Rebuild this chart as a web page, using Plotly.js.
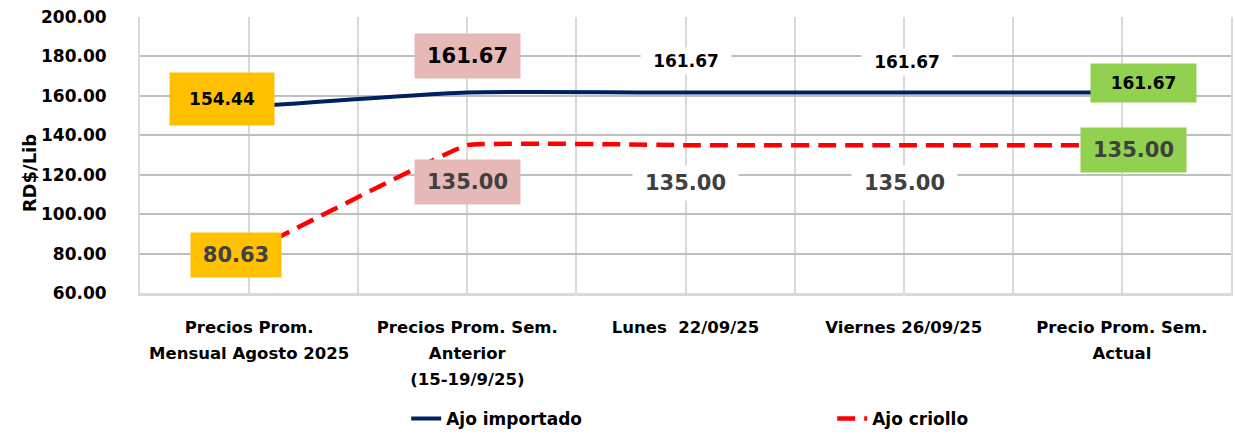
<!DOCTYPE html>
<html>
<head>
<meta charset="utf-8">
<script src="https://cdn.plot.ly/plotly-3.0.1.min.js"></script>
<style>html,body{margin:0;padding:0;background:#fff;}#chart{width:1235px;height:436px;}</style>
</head>
<body>
<div id="chart"></div>
<script>
// ---- data ----
var categories = [
  "Precios Prom.<br>Mensual Agosto 2025",
  "Precios Prom. Sem.<br>Anterior<br>(15-19/9/25)",
  "Lunes  22/09/25",
  "Viernes 26/09/25",
  "Precio Prom. Sem.<br>Actual"
];
var ajoImportado = [154.44, 161.67, 161.67, 161.67, 161.67];
var ajoCriollo   = [80.63, 135.00, 135.00, 135.00, 135.00];
var seriesNames  = ["Ajo importado", "Ajo criollo"];
var yTitle = "RD$/Lib";

var idx = categories.map(function(_, i){ return i; });
var FONT = "DejaVu Sans, Liberation Sans, sans-serif";

// wider line spacing for the category labels: outer font sets the spacing, inner span the glyph size
var tickText = categories.map(function(c){
  return c.split("<br>").map(function(line){
    return '<span style="font-size:16.5px">' + line + '</span>';
  }).join("<br>");
});

var traces = [
  {x: idx, y: ajoImportado, name: seriesNames[0], type: "scatter", mode: "lines",
   line: {color: "#002060", width: 4, shape: "spline", smoothing: 0.5}},
  {x: idx, y: ajoCriollo, name: seriesNames[1], type: "scatter", mode: "lines",
   line: {color: "#FF0000", width: 4.5, shape: "spline", smoothing: 0.2, dash: "18px,9px"}}
];

// label styles per point (position offsets in px, boxes)
var impStyle = [
  {dx: -27, dy: 8,  bg: "#FFC000", w: 104, h: 52, size: 17},
  {dx: 0,   dy: 37, bg: "#E6B8B7", w: 105, h: 44, size: 21},
  {dx: 0,   dy: 32, bg: "#FFFFFF", w: 90,  h: 26, size: 17},
  {dx: 3,   dy: 31, bg: "#FFFFFF", w: 90,  h: 26, size: 17},
  {dx: 22,  dy: 10, bg: "#92D050", w: 105, h: 38, size: 17}
];
var criStyle = [
  {dx: -13, dy: -3,  bg: "#FFC000", w: 90,  h: 44},
  {dx: 0,   dy: -37, bg: "#E6B8B7", w: 105, h: 44},
  {dx: 0,   dy: -38, bg: "#FFFFFF", w: 105, h: 34},
  {dx: 1,   dy: -38, bg: "#FFFFFF", w: 105, h: 34},
  {dx: 12,  dy: -5,  bg: "#92D050", w: 105, h: 44}
];

var annotations = [];
ajoImportado.forEach(function(v, i){
  var s = impStyle[i];
  annotations.push({x: idx[i], y: v, xref: "x", yref: "y", text: v.toFixed(2), showarrow: false,
    xshift: s.dx, yshift: s.dy, bgcolor: s.bg, width: s.w, height: s.h, borderpad: 0,
    font: {family: FONT, size: s.size, color: "#000000", weight: "bold"}});
});
ajoCriollo.forEach(function(v, i){
  var s = criStyle[i];
  annotations.push({x: idx[i], y: v, xref: "x", yref: "y", text: v.toFixed(2), showarrow: false,
    xshift: s.dx, yshift: s.dy, bgcolor: s.bg, width: s.w, height: s.h, borderpad: 0,
    font: {family: FONT, size: 21, color: "#404040", weight: "bold"}});
});
annotations.push({xref: "paper", yref: "paper", x: -0.112, y: 0.435, text: yTitle, textangle: -90,
  showarrow: false, font: {family: FONT, size: 18, color: "#000", weight: "bold"}});

var layout = {
  width: 1235, height: 436,
  margin: {l: 140, r: 4, t: 17, b: 143, autoexpand: false},
  paper_bgcolor: "#ffffff", plot_bgcolor: "#ffffff",
  showlegend: true,
  legend: {orientation: "h", x: 0.244, xanchor: "left", y: -0.4565, yanchor: "middle",
    entrywidthmode: "pixels", entrywidth: 381,
    font: {family: FONT, size: 17, color: "#000", weight: "bold"}},
  xaxis: {range: [-0.5, 4.5], tickmode: "array", tickvals: idx, ticktext: tickText,
    automargin: false,
    showgrid: false, zeroline: false, showline: true, linecolor: "#D9D9D9", linewidth: 3, ticks: "",
    ticklabelstandoff: 13,
    tickfont: {family: FONT, size: 20, color: "#000", weight: "bold"},
    minor: {tickmode: "linear", tick0: -0.5, dtick: 0.5, showgrid: true, gridcolor: "#D9D9D9", gridwidth: 2, ticks: ""},
    fixedrange: true},
  yaxis: {range: [60, 200], dtick: 20, tick0: 60, tickformat: ".2f",
    automargin: false,
    showgrid: true, gridcolor: "#BFBFBF", gridwidth: 2, zeroline: false,
    showline: true, mirror: true, linecolor: "#D9D9D9", linewidth: 2, ticks: "",
    ticklabelstandoff: 28,
    tickfont: {family: FONT, size: 17, color: "#000", weight: "bold"}, fixedrange: true},
  annotations: annotations
};

Plotly.newPlot("chart", traces, layout, {displayModeBar: false, staticPlot: true});
</script>
</body>
</html>
